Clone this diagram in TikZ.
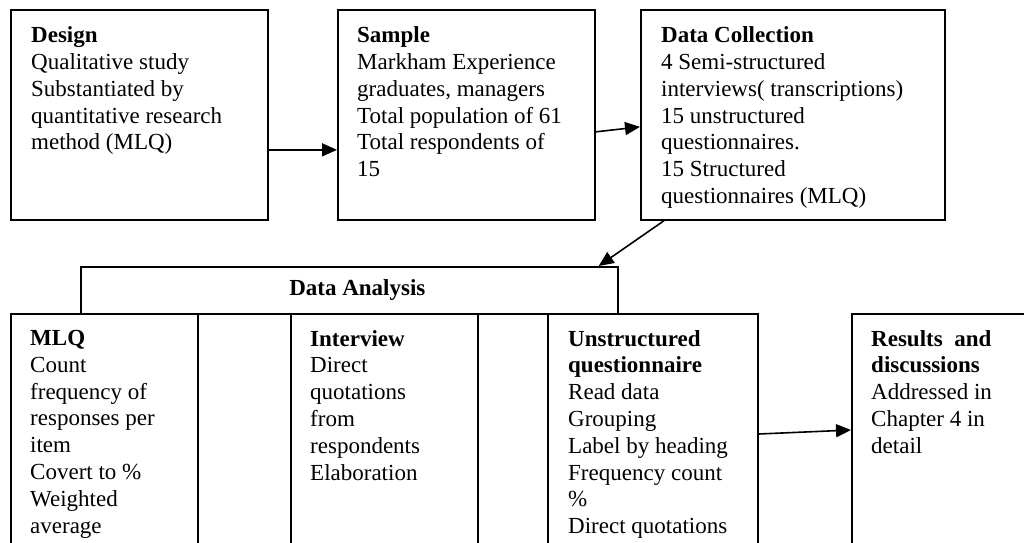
\documentclass[tikz,border=0pt]{standalone}
\usepackage{fontspec}
\setmainfont{Liberation Serif}
\usetikzlibrary{arrows.meta,positioning}

\begin{document}
\begin{tikzpicture}[
    x=1pt, y=-1pt,
    font=\fontsize{23}{26.8}\selectfont,
    stagebox/.style={draw=black, line width=1.7pt, anchor=north west, inner sep=0pt},
    txt/.style={anchor=north west, align=left, inner sep=0pt},
    arrow/.style={-{Triangle[length=15pt, width=13pt]}, line width=1.6pt}
]
    \clip (0,0) rectangle (1024,542);

    % Etapes du haut
    \node[stagebox, minimum width=257pt, minimum height=210pt] (design) at (10,9) {};
    \node[stagebox, minimum width=257pt, minimum height=210pt] (sample) at (337,9) {};
    \node[stagebox, minimum width=304pt, minimum height=210pt] (collect) at (640,9) {};

    \node[txt] (design-t) at ([shift={(21pt,-17.5pt)}]design.north west) {
        \textbf{Design}\\
        Qualitative study\\
        Substantiated by\\
        quantitative research\\
        method (MLQ)
    };
    \node[txt] (sample-t) at ([shift={(20pt,-17.5pt)}]sample.north west) {
        \textbf{Sample}\\
        Markham Experience\\
        graduates, managers\\
        Total population of 61\\
        Total respondents of\\
        15
    };
    \node[txt] (collect-t) at ([shift={(21pt,-17.5pt)}]collect.north west) {
        \textbf{Data Collection}\\
        4 Semi-structured\\
        interviews( transcriptions)\\
        15 unstructured\\
        questionnaires.\\
        15 Structured\\
        questionnaires (MLQ)
    };

    % Analyse des donnees
    \node[stagebox, minimum width=537pt, minimum height=47pt] (analysis) at (80,266) {};
    \node[inner sep=0pt] (analysis-t) at ([xshift=8pt]analysis.center) {\textbf{Data Analysis}};

    \node[stagebox, minimum width=187pt, minimum height=240pt] (mlq) at (10,313) {};
    \node[stagebox, minimum width=93pt, minimum height=240pt] (gap-a) at (197,313) {};
    \node[stagebox, minimum width=187pt, minimum height=240pt] (interview) at (290,313) {};
    \node[stagebox, minimum width=70pt, minimum height=240pt] (gap-b) at (477,313) {};
    \node[stagebox, minimum width=210pt, minimum height=240pt] (unstruct) at (547,313) {};
    \node[stagebox, minimum width=200pt, minimum height=240pt] (results) at (851,313) {};

    \node[txt] (mlq-t) at ([shift={(20pt,-17pt)}]mlq.north west) {
        \textbf{MLQ}\\
        Count\\
        frequency of\\
        responses per\\
        item\\
        Covert to \%\\
        Weighted\\
        average
    };
    \node[txt] (interview-t) at ([shift={(20pt,-17pt)}]interview.north west) {
        \textbf{Interview}\\
        Direct\\
        quotations\\
        from\\
        respondents\\
        Elaboration
    };
    \node[txt] (unstruct-t) at ([shift={(21pt,-17pt)}]unstruct.north west) {
        \textbf{Unstructured}\\
        \textbf{questionnaire}\\
        Read data\\
        Grouping\\
        Label by heading\\
        Frequency count\\
        \%\\
        Direct quotations
    };
    \node[txt] (results-t) at ([shift={(20pt,-17pt)}]results.north west) {
        \textbf{Results~ and}\\
        \textbf{discussions}\\
        Addressed in\\
        Chapter 4 in\\
        detail
    };

    % Fleches
    \draw[arrow] ([yshift=-35pt]design.east) -- ([yshift=-35pt]sample.west);
    \draw[arrow] ([yshift=-17pt]sample.east) -- ([yshift=-12pt]collect.west);
    \draw[arrow] ([xshift=24pt]collect.south west) -- ([xshift=-20pt]analysis.north east);
    \draw[arrow] ([yshift=-121pt]unstruct.north east) -- ([yshift=-117pt]results.north west);

\end{tikzpicture}
\end{document}
